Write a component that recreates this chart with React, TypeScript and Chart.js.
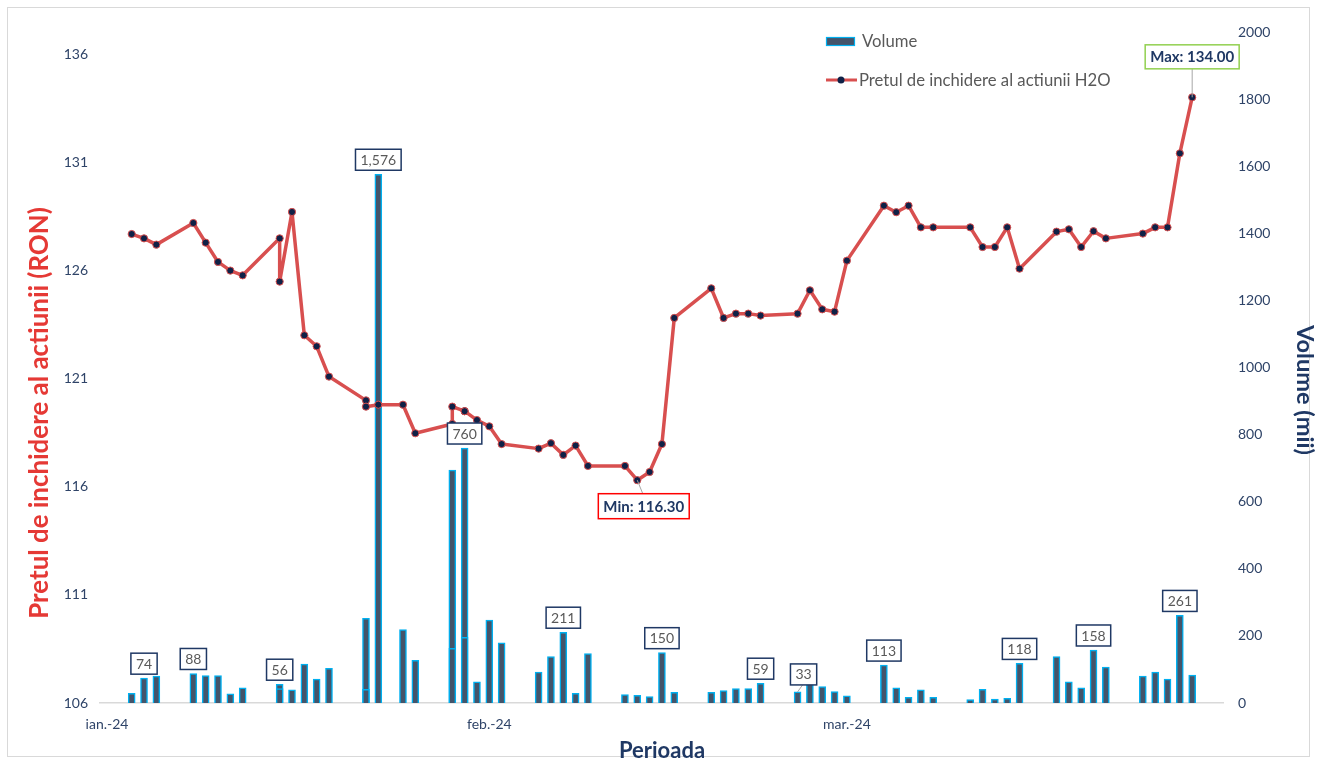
import React, { useEffect, useRef } from 'react';
import { Chart, registerables } from 'chart.js';

Chart.register(...registerables);

// ---------- data ----------
const DATES = [
  '2024-01-03', '2024-01-04', '2024-01-05', '2024-01-08', '2024-01-09', '2024-01-10', '2024-01-11', '2024-01-12',
  '2024-01-15', '2024-01-15', '2024-01-16', '2024-01-17', '2024-01-18', '2024-01-19', '2024-01-22', '2024-01-22',
  '2024-01-23', '2024-01-25', '2024-01-26', '2024-01-29', '2024-01-29', '2024-01-30', '2024-01-30', '2024-01-31',
  '2024-02-01', '2024-02-02', '2024-02-05', '2024-02-06', '2024-02-07', '2024-02-08', '2024-02-09', '2024-02-12',
  '2024-02-13', '2024-02-14', '2024-02-15', '2024-02-16', '2024-02-19', '2024-02-20', '2024-02-21', '2024-02-22',
  '2024-02-23', '2024-02-26', '2024-02-27', '2024-02-28', '2024-02-29',
  '2024-03-01', '2024-03-04', '2024-03-05', '2024-03-06', '2024-03-07', '2024-03-08', '2024-03-11', '2024-03-12',
  '2024-03-13', '2024-03-14', '2024-03-15', '2024-03-18', '2024-03-19', '2024-03-20', '2024-03-21', '2024-03-22',
  '2024-03-25', '2024-03-26', '2024-03-27', '2024-03-28', '2024-03-29',
];

const PRICES = [
  127.68, 127.48, 127.19, 128.19, 127.28, 126.39, 125.99, 125.77,
  127.48, 125.48, 128.7, 123.0, 122.49, 121.09, 119.99, 119.7,
  119.79, 119.79, 118.47, 118.9, 119.7, 119.49, 119.49, 119.08,
  118.79, 117.97, 117.76, 118.01, 117.47, 117.9, 116.96, 116.96,
  116.3, 116.68, 117.97, 123.8, 125.17, 123.8, 124.0, 124.0,
  123.91, 124.0, 125.08, 124.2, 124.09,
  126.45, 128.99, 128.69, 128.99, 127.99, 127.99, 127.99, 127.08,
  127.08, 127.99, 126.08, 127.79, 127.9, 127.08, 127.81, 127.48,
  127.7, 127.99, 127.99, 131.41, 134.0,
];

const VOLUMES = [
  29, 74, 80, 88, 82, 82, 27, 45,
  56, 43, 39, 116, 71, 103, 252, 41,
  1576, 219, 127, 694, 163, 760, 196, 63,
  247, 179, 92, 138, 211, 29, 147, 25,
  23, 19, 150, 32, 32, 37, 43, 43,
  59, 33, 71, 49, 34,
  21, 113, 45, 17, 39, 17, 10, 41,
  12, 14, 118, 138, 63, 45, 158, 107,
  80, 92, 71, 261, 83,
];

const LABELED_DATES = [
  '2024-01-04', '2024-01-08', '2024-01-15', '2024-01-23', '2024-01-30', '2024-02-07', '2024-02-15',
  '2024-02-23', '2024-02-26', '2024-03-04', '2024-03-15', '2024-03-21', '2024-03-28',
];

const X_TICK_DATES = ['2024-01-01', '2024-02-01', '2024-03-01'];
const X_TICK_LABELS = ['ian.-24', 'feb.-24', 'mar.-24'];
const PRICE_TICKS = [106, 111, 116, 121, 126, 131, 136];
const VOLUME_TICKS = [0, 200, 400, 600, 800, 1000, 1200, 1400, 1600, 1800, 2000];

const SERIES_VOLUME = 'Volume';
const SERIES_PRICE = 'Pretul de inchidere al actiunii H2O';
const TITLE_LEFT = 'Pretul de inchidere al actiunii (RON)';
const TITLE_RIGHT = 'Volume (mii)';
const TITLE_X = 'Perioada';

// ---------- helpers ----------
const dayIndex = (s: string) =>
  (Date.UTC(+s.slice(0, 4), +s.slice(5, 7) - 1, +s.slice(8, 10)) - Date.UTC(2024, 0, 1)) / 86400000;

const X_TICK_DAYS = X_TICK_DATES.map(dayIndex);

const FONT = 'Lato, "Open Sans", sans-serif';
const NAVY = '#1f3864';
const TICK_COLOR = '#2f4468';
const RED = '#d84f4f';
const POINT = '#0f2147';
const BAR_FILL = '#44546a';
const BAR_EDGE = '#00b0f0';

function box(ctx: CanvasRenderingContext2D, cx: number, cy: number, w: number, h: number, stroke: string, lw: number) {
  ctx.fillStyle = '#ffffff';
  ctx.fillRect(cx - w / 2, cy - h / 2, w, h);
  ctx.strokeStyle = stroke;
  ctx.lineWidth = lw;
  ctx.strokeRect(cx - w / 2, cy - h / 2, w, h);
}

// draw text rotated, scaled so that it spans the given length
function fittedTitle(ctx: CanvasRenderingContext2D, text: string, cx: number, cy: number, rot: number, span: number, color: string) {
  ctx.save();
  ctx.font = `bold 22px ${FONT}`;
  const w = ctx.measureText(text).width;
  const size = Math.max(16, Math.min(30, (22 * span) / w));
  ctx.font = `bold ${size.toFixed(1)}px ${FONT}`;
  ctx.translate(cx, cy);
  ctx.rotate(rot);
  ctx.fillStyle = color;
  ctx.textAlign = 'center';
  ctx.textBaseline = 'middle';
  ctx.fillText(text, 0, 0);
  ctx.restore();
}

const overlayPlugin = {
  id: 'overlay',
  beforeDraw(chart: any) {
    const ctx = chart.ctx as CanvasRenderingContext2D;
    ctx.save();
    ctx.fillStyle = '#ffffff';
    ctx.fillRect(0, 0, chart.width, chart.height);
    ctx.strokeStyle = '#d9d9d9';
    ctx.lineWidth = 1;
    ctx.strokeRect(7.5, 7.5, chart.width - 15, chart.height - 14);
    ctx.restore();
  },
  afterDatasetsDraw(chart: any) {
    const ctx = chart.ctx as CanvasRenderingContext2D;
    ctx.save();
    // volume labels
    const barMeta = chart.getDatasetMeta(1);
    ctx.font = `14px ${FONT}`;
    ctx.textAlign = 'center';
    ctx.textBaseline = 'middle';
    LABELED_DATES.forEach((d) => {
      const i = DATES.indexOf(d);
      if (i < 0) return;
      const bar = barMeta.data[i];
      const text = VOLUMES[i].toLocaleString('en-US');
      const tw = ctx.measureText(text).width;
      const w = tw + 10;
      const h = 21;
      let cx = bar.x;
      let cy = bar.y - 4 - h / 2;
      if (d === '2024-02-26') {
        cx += 6;
        cy -= 3;
        ctx.strokeStyle = '#a6a6a6';
        ctx.lineWidth = 1;
        ctx.beginPath();
        ctx.moveTo(bar.x, bar.y);
        ctx.lineTo(cx - 1, cy + h / 2);
        ctx.stroke();
      }
      box(ctx, cx, cy, w, h, NAVY, 1.5);
      ctx.fillStyle = '#595959';
      ctx.fillText(text, cx, cy + 0.5);
    });

    // min / max labels
    const lineMeta = chart.getDatasetMeta(0);
    const minV = Math.min(...PRICES);
    const maxV = Math.max(...PRICES);
    const iMin = PRICES.indexOf(minV);
    const iMax = PRICES.indexOf(maxV);
    ctx.font = `bold 15px ${FONT}`;
    {
      const p = lineMeta.data[iMin];
      const text = `Min: ${minV.toFixed(2)}`;
      const w = ctx.measureText(text).width + 10;
      const h = 25;
      const cx = p.x + 6.5;
      const cy = p.y + 26;
      ctx.strokeStyle = '#a6a6a6';
      ctx.lineWidth = 1;
      ctx.beginPath();
      ctx.moveTo(p.x, p.y);
      ctx.lineTo(cx - 1, cy - h / 2);
      ctx.stroke();
      box(ctx, cx, cy, w, h, '#ff0000', 1.5);
      ctx.fillStyle = NAVY;
      ctx.fillText(text, cx, cy + 0.5);
    }
    {
      const p = lineMeta.data[iMax];
      const text = `Max: ${maxV.toFixed(2)}`;
      const w = ctx.measureText(text).width + 10;
      const h = 24;
      const cx = p.x;
      const cy = p.y - 40.5;
      ctx.strokeStyle = '#a6a6a6';
      ctx.lineWidth = 1;
      ctx.beginPath();
      ctx.moveTo(p.x, p.y);
      ctx.lineTo(cx, cy + h / 2);
      ctx.stroke();
      box(ctx, cx, cy, w, h, '#92d050', 1.5);
      ctx.fillStyle = NAVY;
      ctx.fillText(text, cx, cy + 0.5);
    }
    ctx.restore();
  },
  afterDraw(chart: any) {
    const ctx = chart.ctx as CanvasRenderingContext2D;
    // axis titles
    fittedTitle(ctx, TITLE_LEFT, 40, 413, -Math.PI / 2, 412, '#e53935');
    fittedTitle(ctx, TITLE_RIGHT, 1305, 390, Math.PI / 2, 130, NAVY);
    ctx.save();
    ctx.textAlign = 'center';
    ctx.textBaseline = 'middle';
    ctx.font = `bold 22px ${FONT}`;
    ctx.fillStyle = NAVY;
    ctx.fillText(TITLE_X, 662, 751);

    // legend
    ctx.textAlign = 'left';
    ctx.font = `16.7px ${FONT}`;
    ctx.fillStyle = BAR_FILL;
    ctx.fillRect(826, 37, 29, 9);
    ctx.strokeStyle = BAR_EDGE;
    ctx.lineWidth = 1.2;
    ctx.strokeRect(826.5, 37.5, 28, 8);
    ctx.fillStyle = '#595959';
    ctx.fillText(SERIES_VOLUME, 862, 41.5);

    ctx.strokeStyle = RED;
    ctx.lineWidth = 3;
    ctx.beginPath();
    ctx.moveTo(826, 80);
    ctx.lineTo(857, 80);
    ctx.stroke();
    ctx.beginPath();
    ctx.arc(841, 80, 3.5, 0, Math.PI * 2);
    ctx.fillStyle = POINT;
    ctx.fill();
    ctx.fillStyle = '#595959';
    ctx.fillText(SERIES_PRICE, 859, 80.5);
    ctx.restore();
  },
};

export default function App() {
  const ref = useRef<HTMLCanvasElement | null>(null);

  useEffect(() => {
    if (!ref.current) return;
    Chart.defaults.font.family = FONT;
    const xs = DATES.map(dayIndex);
    const chart = new Chart(ref.current, {
      type: 'bar',
      data: {
        datasets: [
          {
            type: 'line',
            label: SERIES_PRICE,
            data: xs.map((x, i) => ({ x, y: PRICES[i] })),
            yAxisID: 'y',
            xAxisID: 'x',
            borderColor: RED,
            borderWidth: 3.5,
            borderJoinStyle: 'round',
            borderCapStyle: 'round',
            pointRadius: 3.6,
            pointBackgroundColor: POINT,
            pointBorderColor: RED,
            pointBorderWidth: 1,
            tension: 0,
            order: 0,
          } as any,
          {
            type: 'bar',
            label: SERIES_VOLUME,
            data: xs.map((x, i) => ({ x, y: VOLUMES[i] })),
            yAxisID: 'y1',
            xAxisID: 'x',
            backgroundColor: BAR_FILL,
            borderColor: BAR_EDGE,
            borderWidth: 1.5,
            borderSkipped: 'bottom',
            barThickness: 7,
            order: 1,
          } as any,
        ],
      },
      options: {
        responsive: false,
        animation: false,
        events: [],
        layout: { padding: { left: 7, right: 0, top: 32, bottom: 0 } },
        plugins: {
          legend: { display: false },
          tooltip: { enabled: false },
        },
        scales: {
          x: {
            type: 'linear',
            position: 'bottom',
            offset: false,
            min: -0.57,
            max: 90.5,
            grid: { display: false, drawTicks: false },
            border: { display: true, color: '#d9d9d9', width: 1.5 },
            afterBuildTicks: (s: any) => {
              s.ticks = X_TICK_DAYS.map((v) => ({ value: v }));
            },
            afterFit: (s: any) => {
              s.height = 60;
            },
            ticks: {
              autoSkip: false,
              maxRotation: 0,
              padding: 13,
              color: TICK_COLOR,
              font: { size: 14 },
              callback: (v: any) => X_TICK_LABELS[X_TICK_DAYS.indexOf(Number(v))] ?? '',
            },
          },
          y: {
            type: 'linear',
            position: 'left',
            min: 106,
            max: 137.02,
            grid: { display: false, drawTicks: false },
            border: { display: false },
            afterBuildTicks: (s: any) => {
              s.ticks = PRICE_TICKS.map((v) => ({ value: v }));
            },
            afterFit: (s: any) => {
              s.width = 93;
            },
            ticks: {
              padding: 12,
              color: TICK_COLOR,
              font: { size: 14 },
              callback: (v: any) => String(v),
            },
          },
          y1: {
            type: 'linear',
            position: 'right',
            min: 0,
            max: 2000,
            grid: { display: false, drawTicks: false },
            border: { display: false },
            afterBuildTicks: (s: any) => {
              s.ticks = VOLUME_TICKS.map((v) => ({ value: v }));
            },
            afterFit: (s: any) => {
              s.width = 94;
            },
            ticks: {
              padding: 15,
              color: TICK_COLOR,
              font: { size: 14 },
              callback: (v: any) => String(v),
            },
          },
        },
      } as any,
      plugins: [overlayPlugin as any],
    });
    return () => chart.destroy();
  }, []);

  return (
    <div style={{ position: 'fixed', left: 0, top: 0, width: 1317, height: 763, background: '#fff' }}>
      <canvas ref={ref} width={1317} height={763} style={{ display: 'block' }} />
    </div>
  );
}
